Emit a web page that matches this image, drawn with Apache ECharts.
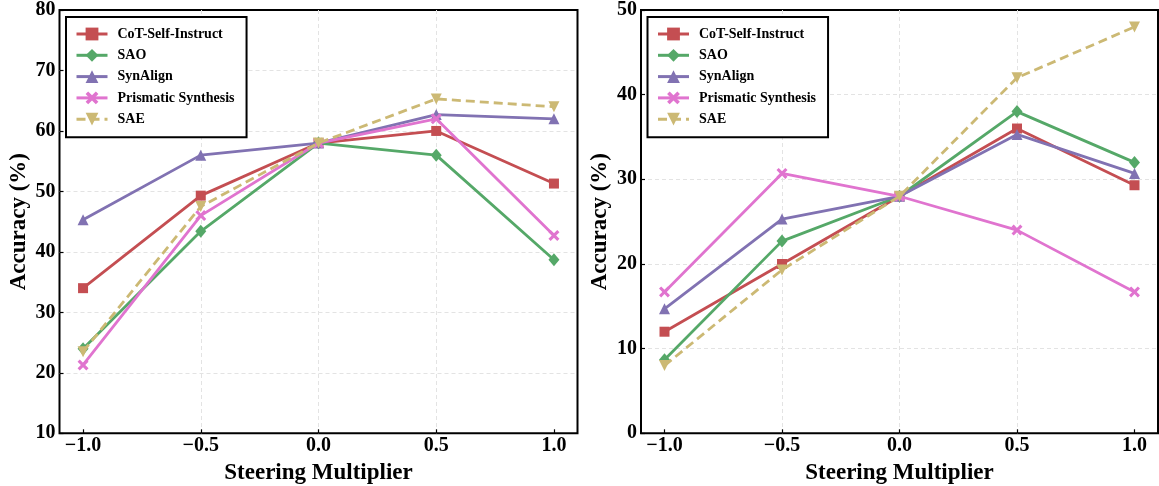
<!DOCTYPE html>
<html>
<head>
<meta charset="utf-8">
<script src="https://cdn.jsdelivr.net/npm/echarts@6/dist/echarts.min.js"></script>
<style>
html,body{margin:0;padding:0;background:#fff;}
#chart{width:1159px;height:486px;}
</style>
</head>
<body>
<div id="chart"></div>
<script>
// ---- data ----
const xValues = [-1.0, -0.5, 0.0, 0.5, 1.0];
const seriesNames = ['CoT-Self-Instruct', 'SAO', 'SynAlign', 'Prismatic Synthesis', 'SAE'];

// left panel
const cotLeft = [34.0, 49.3, 58.0, 60.0, 51.3];
const saoLeft = [24.0, 43.4, 58.0, 56.0, 38.7];
const synLeft = [45.3, 56.0, 58.0, 62.7, 62.0];
const priLeft = [21.3, 46.0, 58.0, 62.0, 42.7];
const saeLeft = [23.5, 47.5, 58.0, 65.3, 64.0];

// right panel
const cotRight = [12.0, 20.0, 28.0, 36.0, 29.3];
const saoRight = [8.7, 22.7, 28.0, 38.0, 32.0];
const synRight = [14.7, 25.3, 28.0, 35.3, 30.7];
const priRight = [16.7, 30.7, 28.0, 24.0, 16.7];
const saeRight = [8.0, 19.3, 28.0, 42.0, 48.0];

const xTickValues = [-1.0, -0.5, 0.0, 0.5, 1.0];
const xTickLabels = ['\u22121.0', '\u22120.5', '0.0', '0.5', '1.0'];
const leftYTicks = [10, 20, 30, 40, 50, 60, 70, 80];
const rightYTicks = [0, 10, 20, 30, 40, 50];

// ---- styles ----
const colors = ['#c44e52', '#55a868', '#8172b2', '#e074cf', '#ccb974'];
const xPath = 'path://M2,0 L5,3 L8,0 L10,2 L7,5 L10,8 L8,10 L5,7 L2,10 L0,8 L3,5 L0,2 Z';
const symbols = ['rect', 'diamond', 'triangle', xPath, 'triangle'];
const symbolSizes = [10, [11, 13], 11, 11, 11];
const symbolRotates = [0, 0, 0, 0, 180];
const FONT = '"Liberation Serif", "Times New Roman", serif';

function pts(arr) { return xValues.map((x, i) => [x, arr[i]]); }

const leftData = [cotLeft, saoLeft, synLeft, priLeft, saeLeft];
const rightData = [cotRight, saoRight, synRight, priRight, saeRight];

function makeSeries(dataSets, idx) {
  return dataSets.map((d, i) => ({
    name: seriesNames[i],
    type: 'line',
    xAxisIndex: idx,
    yAxisIndex: idx,
    data: pts(d),
    symbol: symbols[i],
    symbolSize: symbolSizes[i],
    symbolRotate: symbolRotates[i],
    lineStyle: { color: colors[i], width: 2.8, type: i === 4 ? [9, 5] : 'solid' },
    itemStyle: { color: colors[i] },
    emphasis: { disabled: true },
    animation: false,
    z: 3 + i
  }));
}

const gridLine = { show: true, showMinLine: false, showMaxLine: false, lineStyle: { color: '#e3e3e3', width: 1, type: [4, 3] } };

function xAxisCfg(idx) {
  return {
    type: 'value', gridIndex: idx, min: -1.1, max: 1.1,
    name: 'Steering Multiplier', nameLocation: 'middle', nameGap: 27,
    nameTextStyle: { fontFamily: FONT, fontWeight: 'bold', fontSize: 23, color: '#000' },
    axisLine: { show: false, onZero: false },
    axisTick: { show: true, inside: true, length: 4, lineStyle: { color: '#000', width: 1.2 }, customValues: xTickValues },
    axisLabel: {
      customValues: xTickValues, margin: 3,
      fontFamily: FONT, fontWeight: 'bold', fontSize: 20, color: '#000',
      formatter: v => { const k = xTickValues.findIndex(t => Math.abs(t - v) < 1e-6); return k >= 0 ? xTickLabels[k] : ''; }
    },
    splitLine: gridLine
  };
}

function yAxisCfg(idx, ticks) {
  return {
    type: 'value', gridIndex: idx, min: ticks[0], max: ticks[ticks.length - 1], interval: 10,
    name: 'Accuracy (%)', nameLocation: 'middle', nameGap: 29,
    nameTextStyle: { fontFamily: FONT, fontWeight: 'bold', fontSize: 23, color: '#000' },
    axisLine: { show: false, onZero: false },
    axisTick: { show: true, inside: true, length: 4, lineStyle: { color: '#000', width: 1.2 } },
    axisLabel: { margin: 4, fontFamily: FONT, fontWeight: 'bold', fontSize: 20, color: '#000' },
    splitLine: gridLine
  };
}

function legendCfg(left) {
  return {
    left: left, top: 17, orient: 'vertical',
    data: seriesNames,
    backgroundColor: '#fff', borderColor: '#000', borderWidth: 2, borderRadius: 0,
    padding: [10, 12, 11, 9],
    itemWidth: 31, itemHeight: 16, itemGap: 7.3,
    lineStyle: { width: 3 },
    selectedMode: false,
    textStyle: { fontFamily: FONT, fontWeight: 'bold', fontSize: 14, color: '#000', padding: [0, 0, 0, 5] }
  };
}

const chart = echarts.init(document.getElementById('chart'), null, { renderer: 'canvas' });
chart.setOption({
  animation: false,
  backgroundColor: '#fff',
  grid: [
    { left: 59.5, top: 10, width: 518, height: 423.3, outerBoundsMode: 'none', containLabel: false, show: true, borderColor: '#000', borderWidth: 2, backgroundColor: 'transparent' },
    { left: 641, top: 10, width: 517, height: 423.3, outerBoundsMode: 'none', containLabel: false, show: true, borderColor: '#000', borderWidth: 2, backgroundColor: 'transparent' }
  ],
  legend: [legendCfg(66), legendCfg(647.5)],
  xAxis: [xAxisCfg(0), xAxisCfg(1)],
  yAxis: [yAxisCfg(0, leftYTicks), yAxisCfg(1, rightYTicks)],
  series: makeSeries(leftData, 0).concat(makeSeries(rightData, 1))
});
</script>
</body>
</html>
